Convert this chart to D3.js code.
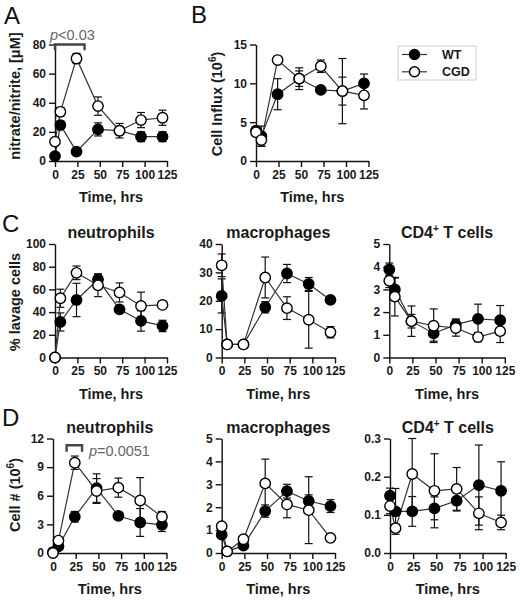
<!DOCTYPE html>
<html><head><meta charset="utf-8">
<script src="https://cdn.jsdelivr.net/npm/d3@7"></script>
<style>body{margin:0;background:#fff}svg{font-family:Arial,"Liberation Sans",Helvetica,sans-serif}</style>
</head><body><svg id="c" width="520" height="601"></svg>
<script>
// ---------- DATA ----------
const times = [0, 6, 24, 48, 72, 96, 120];
const xTickValues = [0, 25, 50, 75, 100, 125];
const groups = ["WT", "CGD"];

// A: nitrate/nitrite (µM)
const nitrateWT = [3.4, 24.7, 6.4, 21.7, 20.8, 16.7, 16.7];
const nitrateWTErr = [1, 2, 1, 4.5, 2, 3.4, 3.4];
const nitrateCGD = [13.3, 33.8, 70.4, 37.7, 20.8, 28.1, 29.7];
const nitrateCGDErr = [2, 3, 3.5, 6.3, 5, 5.2, 5.2];
const nitrateTicks = [0, 20, 40, 60, 80];

// B: cell influx (10^6)
const influxWT = [3.9, 3.2, 8.6, 10.6, 9.15, 9.0, 10.0];
const influxWTErr = [0.5, 1.3, 2.0, 1.4, 0.3, 1.8, 1.2];
const influxCGD = [3.7, 2.7, 13.0, 10.6, 12.2, 9.0, 8.45];
const influxCGDErr = [0.5, 0.8, 0.3, 1.0, 0.8, 4.2, 1.75];
const influxTicks = [0, 5, 10, 15];

// C: % lavage cells
const pctNeutWT = [0, 31.3, 50.7, 68.7, 42.4, 32.2, 27.8];
const pctNeutWTErr = [0, 8, 14.7, 5, 3, 9, 5];
const pctNeutCGD = [0, 52.2, 74.6, 63.6, 57.3, 45.4, 46.3];
const pctNeutCGDErr = [0, 8, 6, 10, 8.4, 12.2, 1];
const pctNeutTicks = [0, 20, 40, 60, 80, 100];

const pctMacWT = [21.7, 4.6, 4.6, 17.7, 29.6, 25.9, 20.3];
const pctMacWTErr = [6, 0.5, 0.5, 2, 3.2, 2.3, 1];
const pctMacCGD = [32.5, 4.6, 4.6, 28.2, 17.4, 13.3, 8.9];
const pctMacCGDErr = [4, 0.5, 0.5, 7.2, 4, 10, 2];
const pctMacTicks = [0, 10, 20, 30, 40];

const pctCD4WT = [3.88, 3.0, 1.6, 1.06, 1.45, 1.7, 1.64];
const pctCD4WTErr = [0.28, 0.5, 0.3, 0.34, 0.25, 0.65, 0.65];
const pctCD4CGD = [3.38, 2.68, 1.6, 1.4, 1.3, 0.9, 1.16];
const pctCD4CGDErr = [0.3, 0.85, 0.67, 0.74, 0.36, 0.2, 0.5];
const pctCD4Ticks = [0, 1, 2, 3, 4, 5];

// D: cell # (10^6)
const numNeutWT = [0.1, 0.7, 3.8, 6.8, 3.9, 3.2, 2.95];
const numNeutWTErr = [0.05, 0.3, 0.55, 1.5, 0.3, 1.46, 0.7];
const numNeutCGD = [0, 1.3, 9.46, 6.5, 6.85, 5.5, 3.8];
const numNeutCGDErr = [0, 0.3, 0.7, 1.3, 1.0, 2.4, 0.55];
const numNeutTicks = [0, 3, 6, 9, 12];

const numMacWT = [0.8, 0.07, 0.32, 1.83, 2.7, 2.27, 2.05];
const numMacWTErr = [0.1, 0.05, 0.1, 0.27, 0.3, 0.27, 0.28];
const numMacCGD = [1.17, 0.07, 0.6, 3.04, 2.12, 1.87, 0.66];
const numMacCGDErr = [0.1, 0.05, 0.1, 1.06, 0.58, 1.46, 0.05];
const numMacTicks = [0, 1, 2, 3, 4, 5];

const numCD4WT = [0.15, 0.109, 0.109, 0.117, 0.137, 0.178, 0.163];
const numCD4WTErr = [0.02, 0.06, 0.039, 0.03, 0.027, 0.105, 0.076];
const numCD4CGD = [0.123, 0.065, 0.207, 0.163, 0.168, 0.104, 0.08];
const numCD4CGDErr = [0.02, 0.01, 0.093, 0.097, 0.056, 0.043, 0.019];
const numCD4Ticks = [0, 0.1, 0.2, 0.3];

// significance annotations (data coordinates)
const sigA = {text: "<0.03", x0: 0, x1: 33, y: 80, yEnd: 76};
const sigD = {text: "=0.0051", x0: 15, x1: 32, y: 11.3, yEnd: 10.6};

// ---------- LAYOUT ----------
const panels = [
  {wt: nitrateWT, wtE: nitrateWTErr, cgd: nitrateCGD, cgdE: nitrateCGDErr, ticks: nitrateTicks, fmt: d3.format("d"),
   left: 55, width: 112, top: 44.5, bottom: 161},
  {wt: influxWT, wtE: influxWTErr, cgd: influxCGD, cgdE: influxCGDErr, ticks: influxTicks, fmt: d3.format("d"),
   left: 256, width: 112.5, top: 44.5, bottom: 161},
  {wt: pctNeutWT, wtE: pctNeutWTErr, cgd: pctNeutCGD, cgdE: pctNeutCGDErr, ticks: pctNeutTicks, fmt: d3.format("d"),
   left: 55, width: 112, top: 244, bottom: 357.5, title: "neutrophils"},
  {wt: pctMacWT, wtE: pctMacWTErr, cgd: pctMacCGD, cgdE: pctMacCGDErr, ticks: pctMacTicks, fmt: d3.format("d"),
   left: 221.7, width: 113.3, top: 244, bottom: 357.5, title: "macrophages"},
  {wt: pctCD4WT, wtE: pctCD4WTErr, cgd: pctCD4CGD, cgdE: pctCD4CGDErr, ticks: pctCD4Ticks, fmt: d3.format("d"),
   left: 389.3, width: 115.5, top: 244, bottom: 357.5, title: "CD4"},
  {wt: numNeutWT, wtE: numNeutWTErr, cgd: numNeutCGD, cgdE: numNeutCGDErr, ticks: numNeutTicks, fmt: d3.format("d"),
   left: 53, width: 113.5, top: 438.5, bottom: 553, title: "neutrophils"},
  {wt: numMacWT, wtE: numMacWTErr, cgd: numMacCGD, cgdE: numMacCGDErr, ticks: numMacTicks, fmt: d3.format("d"),
   left: 221.7, width: 113.3, top: 438.5, bottom: 553, title: "macrophages"},
  {wt: numCD4WT, wtE: numCD4WTErr, cgd: numCD4CGD, cgdE: numCD4CGDErr, ticks: numCD4Ticks, fmt: d3.format(".1f"),
   left: 390, width: 115.7, top: 438.5, bottom: 553, title: "CD4"}
];

const svg = d3.select("#c");
const INK = "#111";
const scales = [];

panels.forEach((p, i) => {
  const x = d3.scaleLinear().domain([0, 125]).range([p.left, p.left + p.width]);
  const y = d3.scaleLinear().domain([p.ticks[0], p.ticks[p.ticks.length - 1]]).range([p.bottom, p.top]);
  scales.push({x, y});
  const g = svg.append("g");

  const xa = g.append("g").attr("transform", `translate(0,${p.bottom})`)
    .call(d3.axisBottom(x).tickValues(xTickValues).tickSize(6).tickSizeOuter(0).tickPadding(3));
  const ya = g.append("g").attr("transform", `translate(${p.left},0)`)
    .call(d3.axisLeft(y).tickValues(p.ticks).tickFormat(p.fmt).tickSize(6).tickSizeOuter(0).tickPadding(3));
  [xa, ya].forEach(a => {
    a.select(".domain").attr("stroke", INK).attr("stroke-width", 1.4);
    a.selectAll(".tick line").attr("stroke", INK).attr("stroke-width", 1.4);
    a.selectAll(".tick text").attr("fill", "#1a1a1a").attr("font-size", 12).attr("font-weight", "bold")
      .attr("font-family", "Arial, 'Liberation Sans', sans-serif");
  });

  // x axis title
  g.append("text").attr("x", x(62.5)).attr("y", p.bottom + 41).attr("text-anchor", "middle")
    .attr("font-size", 14.5).attr("font-weight", "bold").attr("fill", "#1a1a1a").text("Time, hrs");

  // panel title
  if (p.title) {
    const t = g.append("text").attr("x", x(62.5)).attr("y", p.top - 6).attr("text-anchor", "middle")
      .attr("font-size", 16).attr("font-weight", "bold").attr("fill", "#1a1a1a");
    if (p.title === "CD4") {
      t.append("tspan").text("CD4");
      t.append("tspan").attr("font-size", 10).attr("dy", -6).text("+");
      t.append("tspan").attr("dy", 6).text(" T cells");
    } else t.text(p.title);
  }

  const series = [
    {name: groups[0], v: p.wt, e: p.wtE, fill: "#000"},
    {name: groups[1], v: p.cgd, e: p.cgdE, fill: "#fff"}
  ];
  const line = d3.line().x((d, k) => x(times[k])).y(d => y(d));

  series.forEach(s => {
    // error bars
    const eb = g.append("g").attr("stroke", INK).attr("stroke-width", 1.2);
    s.v.forEach((v, k) => {
      if (s.e[k] <= 0) return;
      const cx = x(times[k]), hi = y(v + s.e[k]), lo = y(Math.max(p.ticks[0], v - s.e[k]));
      eb.append("line").attr("x1", cx).attr("x2", cx).attr("y1", hi).attr("y2", lo);
      eb.append("line").attr("x1", cx - 4).attr("x2", cx + 4).attr("y1", hi).attr("y2", hi);
      eb.append("line").attr("x1", cx - 4).attr("x2", cx + 4).attr("y1", lo).attr("y2", lo);
    });
    g.append("path").datum(s.v).attr("d", line).attr("fill", "none")
      .attr("stroke", "#333").attr("stroke-width", 1.2);
  });
  series.forEach(s => {
    g.append("g").selectAll("circle").data(s.v).join("circle")
      .attr("cx", (d, k) => x(times[k])).attr("cy", d => y(d)).attr("r", 5.2)
      .attr("fill", s.fill).attr("stroke", "#000").attr("stroke-width", 1.4);
  });
});

// y-axis titles
function yTitle(cx, cy, parts) {
  const t = svg.append("text").attr("transform", `translate(${cx},${cy}) rotate(-90)`)
    .attr("text-anchor", "middle").attr("dy", "0.36em")
    .attr("font-size", 14.5).attr("font-weight", "bold").attr("fill", "#1a1a1a");
  parts.forEach(pt => {
    const ts = t.append("tspan").text(pt.t);
    if (pt.sup) ts.attr("font-size", 10).attr("dy", -6);
    if (pt.after) ts.attr("dy", 6);
  });
}
yTitle(15, 96, [{t: "nitrate/nitrite, [\u03bcM]"}]);
yTitle(217, 104, [{t: "Cell Influx (10"}, {t: "6", sup: true}, {t: ")", after: true}]);
yTitle(15, 302, [{t: "% lavage cells"}]);
yTitle(15, 495, [{t: "Cell # (10"}, {t: "6", sup: true}, {t: ")", after: true}]);

// panel letters
[["A", 4, 24], ["B", 191, 23], ["C", 2, 232], ["D", 2, 426]].forEach(([l, lx, ly]) => {
  svg.append("text").attr("x", lx).attr("y", ly).attr("font-size", 24).attr("fill", "#111").text(l);
});

// significance brackets
function sig(s, sc, tx, ty) {
  const {x, y} = sc;
  svg.append("path")
    .attr("d", `M${x(s.x0)},${y(s.yEnd)}V${y(s.y)}H${x(s.x1)}V${y(s.yEnd)}`)
    .attr("fill", "none").attr("stroke", "#444").attr("stroke-width", 2.4);
  const t = svg.append("text").attr("x", tx).attr("y", ty).attr("font-size", 14.5).attr("fill", "#666");
  t.append("tspan").attr("font-style", "italic").text("p");
  t.append("tspan").text(s.text);
}
sig(sigA, scales[0], 50, 40);
sig(sigD, scales[5], 89, 455.5);

// legend
const lg = svg.append("g");
lg.append("rect").attr("x", 398).attr("y", 46).attr("width", 78).attr("height", 34)
  .attr("fill", "#fff").attr("stroke", "#ccc").attr("stroke-width", 1);
groups.forEach((name, i) => {
  const ly = 54.5 + i * 17.3;
  lg.append("line").attr("x1", 402).attr("x2", 427).attr("y1", ly).attr("y2", ly).attr("stroke", "#333").attr("stroke-width", 1.2);
  lg.append("circle").attr("cx", 414.5).attr("cy", ly).attr("r", 5).attr("fill", i === 0 ? "#000" : "#fff")
    .attr("stroke", "#000").attr("stroke-width", 1.4);
  lg.append("text").attr("x", 442).attr("y", ly).attr("dy", "0.36em").attr("font-size", 12.5)
    .attr("font-weight", "bold").attr("fill", "#1a1a1a").text(name);
});
</script></body></html>
